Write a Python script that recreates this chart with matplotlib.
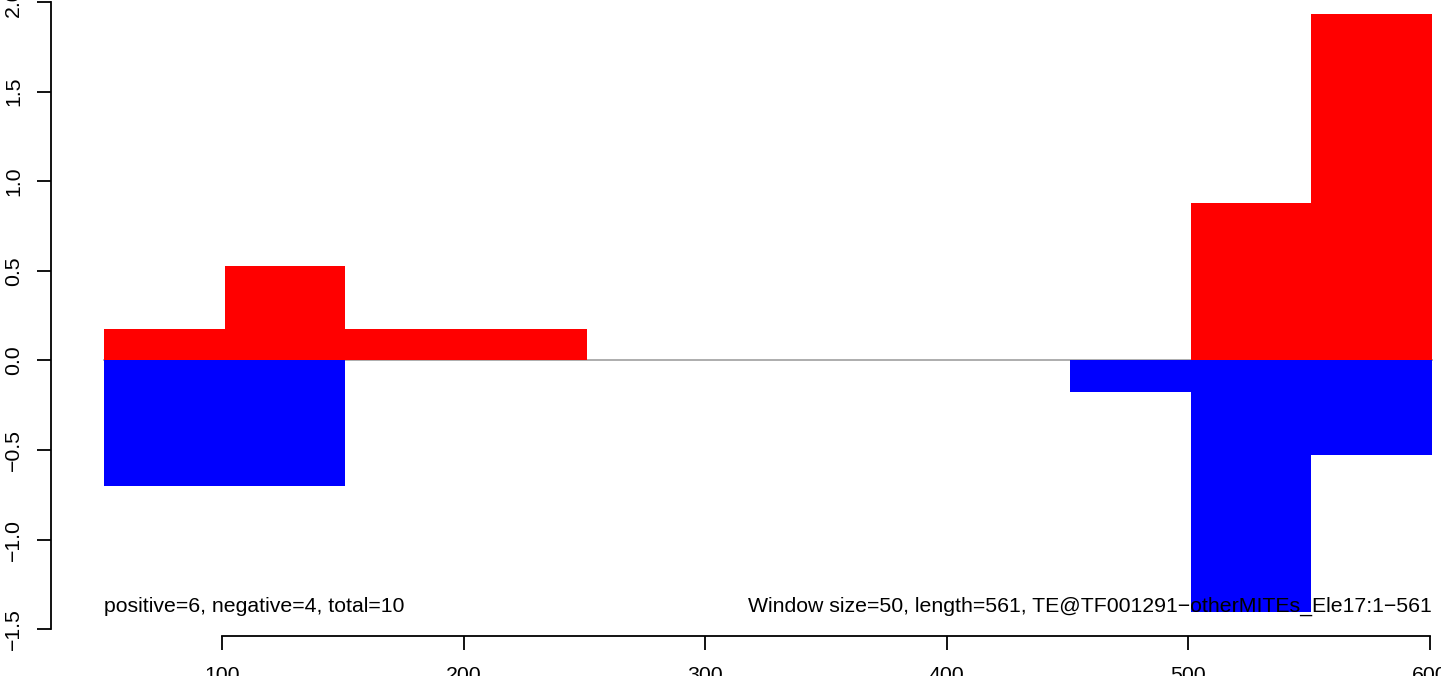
import matplotlib
matplotlib.use("Agg")
import matplotlib.pyplot as plt

# windows (start, end) and values
pos_starts = [51, 101, 151, 501, 551]
pos_ends = [101, 151, 251, 551, 601]
pos_values = [0.175, 0.526, 0.175, 0.877, 1.93]

neg_starts = [51, 451, 501, 551]
neg_ends = [151, 501, 551, 601]
neg_values = [-0.702, -0.175, -1.404, -0.526]

x_ticks = [100, 200, 300, 400, 500, 600]
y_ticks = [-1.5, -1.0, -0.5, 0.0, 0.5, 1.0, 1.5, 2.0]

left_text = "positive=6, negative=4, total=10"
right_text = "Window size=50, length=561, TE@TF001291\u2212otherMITEs_Ele17:1\u2212561"

plt.rcParams['font.family'] = ['Liberation Sans', 'DejaVu Sans']

W, H = 1441, 676
fig = plt.figure(figsize=(W / 100, H / 100), dpi=100)
# axes box in pixels (plot region extends beyond the figure like the reference)
lpx, rpx, bpx, tpx = 50.7, 1485.2, 635.7, -9.4
ax = fig.add_axes([lpx / W, (H - bpx) / H, (rpx - lpx) / W, (bpx - tpx) / H])

xmin, xmax = 29.0, 623.0
ymin, ymax = -1.536, 2.063
ax.set_xlim(xmin, xmax)
ax.set_ylim(ymin, ymax)

ax.bar(pos_starts, pos_values, width=[e - s for s, e in zip(pos_starts, pos_ends)],
       align='edge', color='#FF0000', linewidth=0, zorder=2)
ax.bar(neg_starts, neg_values, width=[e - s for s, e in zip(neg_starts, neg_ends)],
       align='edge', color='#0000FF', linewidth=0, zorder=2)
ax.plot([min(pos_starts + neg_starts), max(pos_ends + neg_ends)], [0, 0],
        color='#A0A0A0', linewidth=1.2, zorder=1.5)

fs = 15.3
ymin_val = min(neg_values)
ax.text(min(pos_starts + neg_starts), ymin_val, left_text, ha='left', va='baseline',
        fontsize=fs, color='black', zorder=5)
ax.text(max(pos_ends + neg_ends), ymin_val, right_text, ha='right', va='baseline',
        fontsize=fs, color='black', zorder=5)

for s in ['top', 'right']:
    ax.spines[s].set_visible(False)
ax.spines['left'].set_bounds(y_ticks[0], y_ticks[-1])
ax.spines['bottom'].set_bounds(x_ticks[0], x_ticks[-1])
for s in ['left', 'bottom']:
    ax.spines[s].set_linewidth(1.3)

ax.set_xticks(x_ticks)
ax.set_xticklabels([str(v) for v in x_ticks])
ax.set_yticks(y_ticks)
ax.set_yticklabels([f"{v:.1f}".replace('-', '\u2212') for v in y_ticks], rotation=90, va='center')
ax.tick_params(axis='both', direction='out', length=9.8, width=1.3, labelsize=fs)
ax.tick_params(axis='y', pad=10)
ax.tick_params(axis='x', pad=12)

fig.savefig("out.png", dpi=100)
